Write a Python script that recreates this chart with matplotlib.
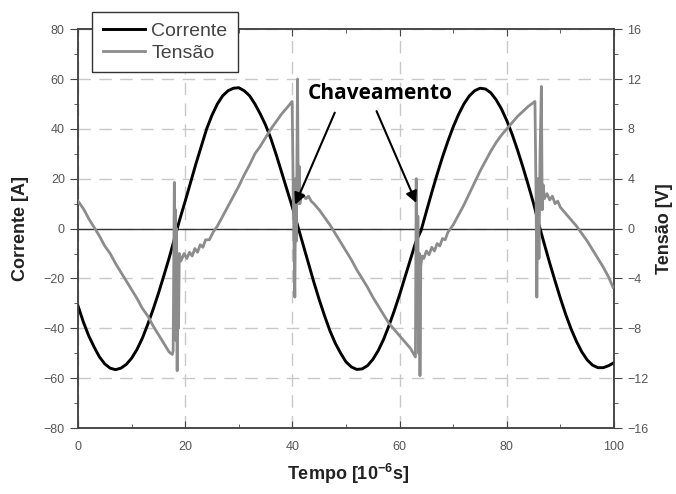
import matplotlib
matplotlib.use("Agg")
import matplotlib.pyplot as plt
from matplotlib.ticker import MultipleLocator

# current [A]
t_corr = list(range(0, 101))
corrente = [
    -31, -37.5, -43, -47.5, -51.5, -54.3, -56, -56.6, -56, -54.5,
    -52, -48.5, -44, -38.5, -32.5, -26, -19, -11.8, -4, 3.8,
    11, 18.5, 26, 33, 40, 45.5, 50, 53.3, 55.3, 56.3,
    56.5, 55.3, 53.3, 50, 46, 41.5, 36, 29.5, 22.5, 15.5,
    8.5, 1, -6.5, -14, -21.5, -28.5, -35, -41, -46, -50,
    -53.5, -55.5, -56.5, -56.3, -55, -52.5, -49, -44.5, -39, -33,
    -26.5, -19.5, -12.5, -5.5, -0.8, 6.9, 14.5, 21.8, 28.7, 35,
    40.8, 45.8, 50, 53.2, 55.3, 56.3, 56, 54.5, 51.7, 48,
    43.3, 37.8, 31.5, 24.7, 17.5, 10, 1.5, -6.2, -13.8, -21,
    -28, -34.5, -40.3, -45.3, -49.5, -52.7, -54.8, -55.8, -55.8, -55,
    -53.8,
]

# voltage [V] (denser around the switching spikes)
t_tens = [
    0, 1, 2, 3, 4, 5, 6, 7, 8, 9, 10, 11, 12, 13, 14, 15, 16, 17, 17.6,
    17.75, 17.97, 18.1, 18.2, 18.3, 18.4, 18.5, 18.6, 18.75, 18.9, 19.2,
    19.8, 20.3, 20.8, 21.3, 21.8, 22.3, 22.8, 23.3, 23.8, 24.5, 25.2, 26,
    27, 28, 29, 30, 31, 32, 33, 34, 35, 36, 37, 38, 39, 39.95,
    40.2, 40.45, 40.6, 40.75, 40.95, 41.1, 41.25, 41.4, 41.6,
    42, 42.5, 43, 43.5, 44, 45, 46, 47, 48, 49, 50, 51, 52, 53, 54, 55,
    56, 57, 58, 59, 60, 61, 62, 62.95,
    63.1, 63.25, 63.4, 63.55, 63.7, 63.8, 63.95, 64.2,
    64.5, 65, 65.5, 66, 66.5, 67, 67.5, 68, 68.5, 69, 70, 71, 72, 73, 74,
    75, 76, 77, 78, 79, 80, 81, 82, 83, 84, 85.25,
    85.45, 85.6, 85.8, 86.0, 86.2, 86.45, 86.6, 86.8, 87.0,
    87.5, 88, 88.5, 89, 89.5, 90, 91, 92, 93, 94, 95, 96, 97, 98, 99, 99.8,
]
tensao = [
    2.2, 1.6, 0.8, 0.1, -0.6, -1.4, -2.0, -2.8, -3.5, -4.2, -4.9, -5.6, -6.4,
    -7.0, -7.8, -8.5, -9.2, -9.9, -10.1,
    -9.8, 3.7, -6, 1.5, -9, 0, -11.4, -3, -8, -2.0, -2.6,
    -2.0, -2.4, -1.9, -2.2, -1.6, -1.9, -1.3, -1.5, -0.9, -0.9, -0.3, 0.2,
    1.0, 1.8, 2.6, 3.4, 4.3, 5.1, 6.0, 6.6, 7.3, 8.0, 8.6, 9.2, 9.7, 10.2,
    1.5, -5.5, 4, -1, 12, 2, 5, 2.0, 2.8,
    2.7, 2.4, 2.6, 2.2, 2.0, 1.5, 0.9, 0.3, -0.4, -1.1, -1.8, -2.5, -3.3,
    -4.0, -4.7, -5.5, -6.2, -6.9, -7.6, -8.1, -8.6, -9.1, -9.6, -10.3,
    4.0, -8, 1, -10, -2, -11.8, -3, -2.2,
    -2.4, -1.8, -2.1, -1.5, -1.8, -1.2, -1.4, -0.8, -0.9, -0.3, 0.3, 1.1,
    1.9, 2.8, 3.7, 4.6, 5.4, 6.2, 6.9, 7.5, 8.0, 8.5, 9.0, 9.4, 9.8, 10.2,
    3, -5.5, 4, -2.4, 6, 11.4, 1.5, 3.5, 2.4,
    2.8, 2.3, 2.6, 2.0, 2.2, 1.7, 1.2, 0.7, 0.2, -0.4, -1.0, -1.7, -2.4,
    -3.1, -3.9, -4.7,
]

# annotation: text position and arrow (tail, head) in time / current units
label_xy = (56.3, 54)
arrows = [((47.9, 46.5), (40.5, 9.6)), ((55.7, 47.1), (63.1, 10.3))]

tick_col = "#555555"
plt.rcParams["font.family"] = ["Liberation Sans", "DejaVu Sans"]
plt.rcParams["mathtext.fontset"] = "custom"
plt.rcParams["mathtext.rm"] = "Liberation Sans:bold"
plt.rcParams["mathtext.bf"] = "Liberation Sans:bold"
plt.rcParams["mathtext.default"] = "bf"

fig = plt.figure(figsize=(6.76, 4.94), dpi=100)
ax = fig.add_axes([0.1154, 0.1336, 0.7929, 0.8074])
ax2 = ax.twinx()

ax.plot(t_corr, corrente, color="black", lw=2.1, label="Corrente", zorder=4)
ax2.plot(t_tens, tensao, color="#8c8c8c", lw=2.0, label="Tensão", zorder=4)
ax.axhline(0, color="#333333", lw=1.0, zorder=3)

ax.set_xlim(0, 100)
ax.set_ylim(-80, 80)
ax2.set_ylim(-16, 16)

ax.xaxis.set_major_locator(MultipleLocator(20))
ax.xaxis.set_minor_locator(MultipleLocator(10))
ax.yaxis.set_major_locator(MultipleLocator(20))
ax.yaxis.set_minor_locator(MultipleLocator(10))
ax2.yaxis.set_major_locator(MultipleLocator(4))
ax2.yaxis.set_minor_locator(MultipleLocator(2))

ax.grid(True, which="major", color="#c8c8c8", lw=1.0, ls=(0, (9, 6)))

for a in (ax, ax2):
    for s in a.spines.values():
        s.set_color("#444444")
        s.set_linewidth(1.1)

ax.tick_params(axis="x", which="both", direction="in", top=True,
               colors="#444444", labelcolor=tick_col, labelsize=9, pad=9)
ax.tick_params(axis="x", which="major", length=5)
ax.tick_params(axis="x", which="minor", length=3)
ax.tick_params(axis="y", which="both", direction="out",
               colors="#444444", labelcolor=tick_col, labelsize=9)
ax.tick_params(axis="y", which="major", length=6)
ax.tick_params(axis="y", which="minor", length=3)
ax2.tick_params(axis="y", which="both", direction="out",
                colors="#444444", labelcolor=tick_col, labelsize=9)
ax2.tick_params(axis="y", which="major", length=6)
ax2.tick_params(axis="y", which="minor", length=3)

ax.set_xlabel("Tempo [10$^{-6}$s]", fontsize=13, fontweight="bold",
              color="#222222")
ax.set_ylabel("Corrente [A]", fontsize=13, fontweight="bold", color="#222222")
ax2.set_ylabel("Tensão [V]", fontsize=13, fontweight="bold", color="#222222")
ax.xaxis.set_label_coords(0.504, -0.085)
ax.yaxis.set_label_coords(-0.092, 0.5)
ax2.yaxis.set_label_coords(1.078, 0.5)

# annotation drawn on the top (voltage) axes but placed in current units
ax2.text(label_xy[0], label_xy[1], "Chaveamento", fontsize=15,
         fontweight="bold", family=["Open Sans", "DejaVu Sans"],
         ha="center", va="center", zorder=6, transform=ax.transData)
for tail, head in arrows:
    ax2.annotate("", xy=head, xytext=tail, xycoords=ax.transData,
                 textcoords=ax.transData, zorder=6,
                 arrowprops=dict(arrowstyle="-|>", color="black", lw=1.5,
                                 mutation_scale=17, shrinkA=0, shrinkB=0))

h1, l1 = ax.get_legend_handles_labels()
h2, l2 = ax2.get_legend_handles_labels()
leg = ax2.legend(h1 + h2, l1 + l2, loc="upper left",
                 bbox_to_anchor=(0.026, 1.043), borderaxespad=0,
                 fontsize=14, frameon=True, fancybox=False, framealpha=1,
                 edgecolor="#333333", handlelength=2.2, handletextpad=0.3,
                 labelspacing=0.2, borderpad=0.55)
leg.set_zorder(7)
leg.get_frame().set_linewidth(1.0)
for txt in leg.get_texts():
    txt.set_color("#444444")

fig.savefig("out.png", dpi=100)
